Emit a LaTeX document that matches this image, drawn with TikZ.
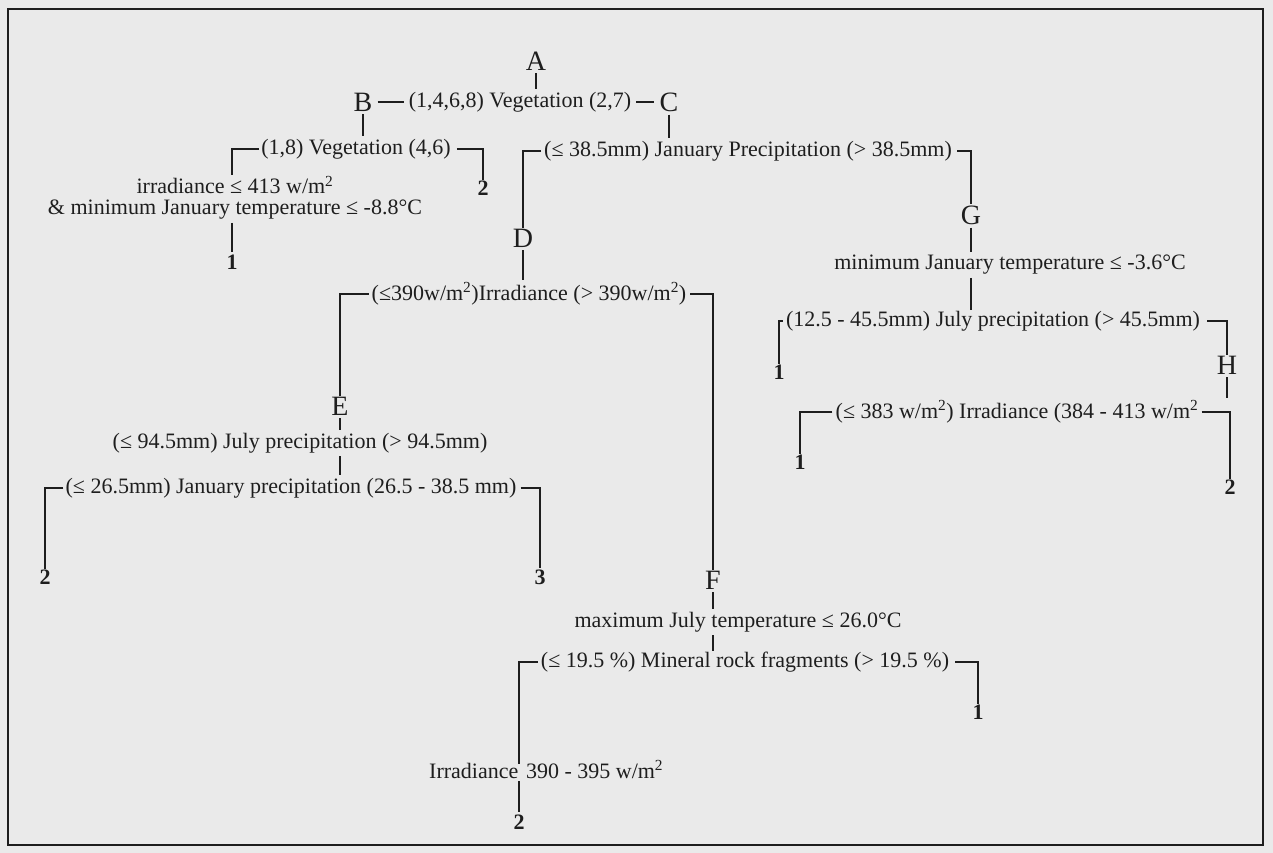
\documentclass[tikz,border=0pt]{standalone}
\usepackage{fontspec}
\setmainfont{Liberation Serif}
\definecolor{paper}{RGB}{234,234,234}
\definecolor{ink}{RGB}{30,30,30}
\begin{document}
\begin{tikzpicture}[x=1pt,y=-1pt,
  txt/.style={font=\fontsize{22}{21}\selectfont, inner sep=1pt, text=ink},
  big/.style={font=\fontsize{28}{30}\selectfont, inner sep=1pt, text=ink},
  leaf/.style={font=\fontsize{22}{24}\selectfont\bfseries, inner sep=1pt, text=ink},
  ln/.style={draw=ink, line width=1.4pt},
  tick/.style={draw=ink, line width=1.1pt, shorten <=2pt, shorten >=2pt},
]
\fill[paper] (0,0) rectangle (1273,853);
\useasboundingbox (0,0) rectangle (1273,853);
\draw[ink, line width=1.8pt] (8,9) rectangle (1263,845);
\draw[ink, line width=2.6pt] (8,9) -- (1263,9);

% top level
\node[big] (A) at (536,61) {A};
\node[big] (B) at (363,102) {B};
\node[txt] (t1) at (520,102) {(1,4,6,8) Vegetation (2,7)};
\node[big] (C) at (669,102) {C};
\draw[ln, shorten <=4pt, shorten >=4pt] (B.east) -- (t1.west);
\draw[ln, shorten <=4pt, shorten >=4pt] (t1.east) -- (C.west);
\draw[tick] (A.south) -- (A.south |- t1.north);

% branch B
\node[txt] (t2) at (356,149) {(1,8) Vegetation (4,6)};
\draw[tick] (B.south) -- (B.south |- t2.north);
\node[txt, align=center] (irr) at (235,198) {irradiance ≤ 413 w/m\textsuperscript{2}\\\& minimum January temperature ≤ -8.8°C};
\node[leaf] (l1) at (232,262) {1};
\node[leaf] (l2) at (483,188) {2};
\draw[ln, shorten <=1pt] (t2.west) -| (irr.north -| l1);
\draw[ln, shorten <=5pt] (t2.east) -| (l2.north);
\draw[tick] (irr.south -| l1) -- (l1.north);

% branch C
\node[txt] (t3) at (748,151) {(≤ 38.5mm) January Precipitation (> 38.5mm)};
\draw[tick] (C.south) -- (C.south |- t3.north);
\node[big] (D) at (523,238) {D};
\node[big] (G) at (971,215) {G};
\draw[ln, shorten <=2pt] (t3.west) -| (D.north);
\draw[ln, shorten <=4pt] (t3.east) -| (G.north);

% branch G
\node[txt] (t4) at (1010,265) {minimum January temperature ≤ -3.6°C};
\draw[tick] (G.south) -- (G.south |- t4.north);
\node[txt] (t5) at (993,321) {(12.5 - 45.5mm) July precipitation (> 45.5mm)};
\draw[tick, shorten >=0pt] (G |- t4.south) -- (G |- t5.north);
\node[leaf] (l3) at (779,372) {1};
\node[big] (H) at (1227,365) {H};
\draw[ln, shorten <=2pt] (t5.west) -| (l3.north);
\draw[ln, shorten <=6pt] (t5.east) -| (H.north);

% branch H
\node[txt] (t6) at (1017,412) {(≤ 383 w/m\textsuperscript{2}) Irradiance (384 - 413 w/m\textsuperscript{2}};
\draw[tick] (H.south) -- (H.south |- t6.north);
\node[leaf] (l4) at (800,462) {1};
\node[leaf] (l5) at (1230,487) {2};
\draw[ln, shorten <=2pt] (t6.west) -| (l4.north);
\draw[ln, shorten <=2pt] (t6.east) -| (l5.north);

% branch D
\node[txt] (t7) at (529,294) {(≤390w/m\textsuperscript{2})Irradiance (> 390w/m\textsuperscript{2})};
\draw[tick] (D.south) -- (D.south |- t7.north);
\node[big] (E) at (340,406) {E};
\node[big] (F) at (713,580) {F};
\draw[ln, shorten <=2pt] (t7.west) -| (E.north);
\draw[ln, shorten <=3pt] (t7.east) -| (F.north);

% branch E
\node[txt] (t8) at (300,443) {(≤ 94.5mm) July precipitation (> 94.5mm)};
\draw[tick] (E.south) -- (E.south |- t8.north);
\node[txt] (t9) at (291,488) {(≤ 26.5mm) January precipitation (26.5 - 38.5 mm)};
\draw[tick] (E |- t8.south) -- (E |- t9.north);
\node[leaf] (l6) at (45,577) {2};
\node[leaf] (l7) at (540,577) {3};
\draw[ln, shorten <=1pt] (t9.west) -| (l6.north);
\draw[ln, shorten <=3pt] (t9.east) -| (l7.north);

% branch F
\node[txt] (t10) at (738,622) {maximum July temperature ≤ 26.0°C};
\draw[tick] (F.south) -- (F.south |- t10.north);
\node[txt] (t11) at (745,662) {(≤ 19.5 \%) Mineral rock fragments (> 19.5 \%)};
\draw[tick, shorten >=0pt] (F |- t10.south) -- (F |- t11.north);
\node[leaf] (l8) at (978,712) {1};
\draw[ln, shorten <=5pt] (t11.east) -| (l8.north);
\node[txt, anchor=base west] (t12) at (428,778) {Irradiance\hspace{0.35em}390 - 395 w/m\textsuperscript{2}};
\node[leaf] (l9) at (519,822) {2};
\coordinate (c12) at (519,764);
\draw[ln, shorten <=2pt] (t11.west) -| (c12);
\draw[tick] (l9 |- t12.south) -- (l9.north);
\end{tikzpicture}
\end{document}
